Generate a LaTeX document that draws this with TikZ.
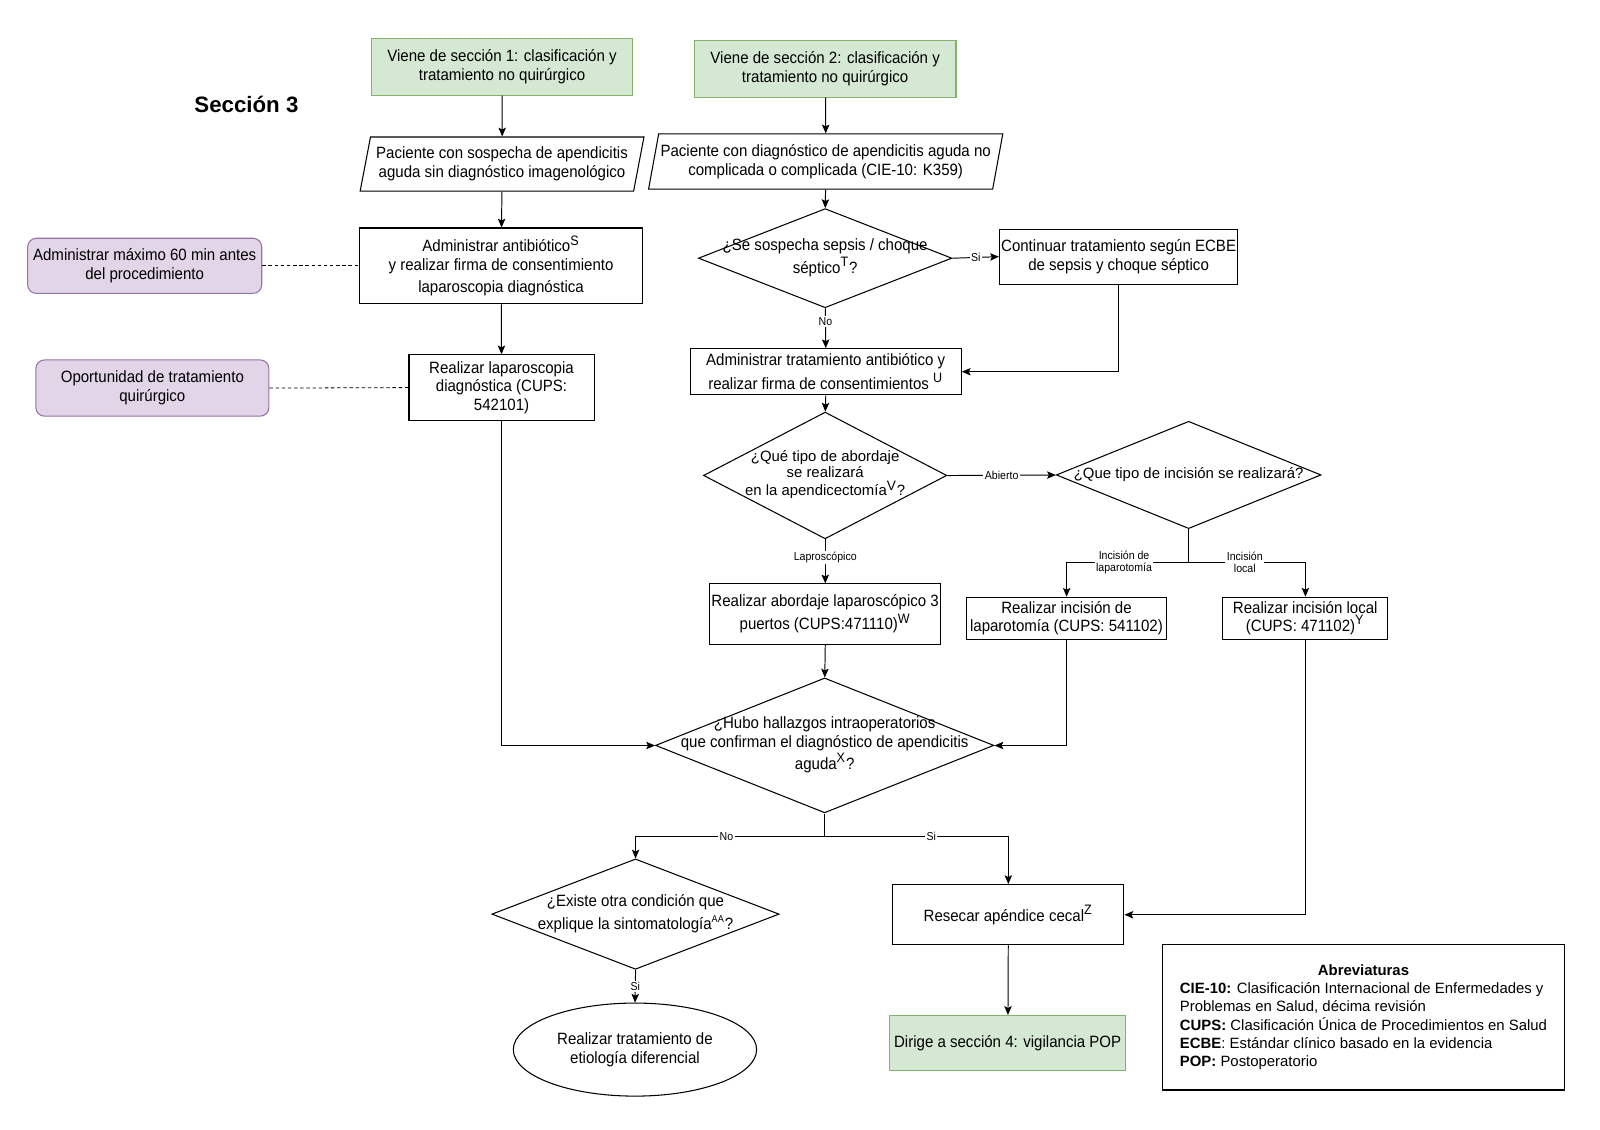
\documentclass[tikz,border=0pt]{standalone}
\usepackage{fontspec}
\setmainfont{Liberation Sans}
\newfontfamily\narrowsans[FakeStretch=0.92]{Liberation Sans}
\usetikzlibrary{shapes.geometric,arrows.meta}

\definecolor{boxgreen}{HTML}{D5E8D4}
\definecolor{linegreen}{HTML}{82B366}
\definecolor{boxpurple}{HTML}{E1D5E7}
\definecolor{linepurple}{HTML}{9673A6}

% text of a decision that does not size its diamond
\newcommand{\dtext}[1]{\makebox[0pt]{\raisebox{-0.25em}[0pt][0pt]{\begin{tabular}{@{}c@{}}#1\end{tabular}}}}
% reference letters
\newcommand{\sups}[1]{\textsuperscript{\fontsize{7.6}{8}\selectfont #1}}

\begin{document}
\begin{tikzpicture}[x=0.02cm, y=-0.02cm, scale=1.0225,
    every node/.append style={transform shape},
    base/.style={draw, line width=0.6pt, align=center, inner sep=1pt,
        font=\narrowsans\fontsize{9.1}{10.4}\selectfont},
    procbox/.style={base, rectangle},
    srcbox/.style={base, rectangle, fill=boxgreen, draw=linegreen},
    notebox/.style={base, rectangle, rounded corners=5pt, fill=boxpurple, draw=linepurple},
    iobox/.style={base, trapezium, trapezium left angle=75, trapezium right angle=105,
        trapezium stretches=true},
    decision/.style={base, diamond, inner sep=0pt},
    endbox/.style={base, ellipse, inner sep=0pt},
    conn/.style={-{Stealth[length=5pt, width=4.2pt, inset=1pt]}, line width=0.55pt},
    link/.style={line width=0.45pt, dash pattern=on 2pt off 1.5pt},
    lbl/.style={fill=white, inner sep=0.8pt, align=center,
        font=\narrowsans\fontsize{6.4}{7}\selectfont}
]
    \useasboundingbox (0,0) rectangle (1564.8,1105.1);

    \node[font=\bfseries\fontsize{12.4}{14}\selectfont] (title) at (241,102) {Sección 3};

    % Left column: coming from section 1
    \node[srcbox, minimum width=5.12cm, minimum height=1.1cm] (src1) at (491,65.5)
        {Viene de sección 1: clasificación y\\tratamiento no quirúrgico};
    \node[iobox, minimum width=5.56cm, minimum height=1.06cm] (pac1) at (491,160.5)
        {Paciente con sospecha de apendicitis\\aguda sin diagnóstico imagenológico};
    \node[procbox, minimum width=5.52cm, minimum height=1.48cm] (abx) at (490,260)
        {Administrar antibiótico\sups{S}\\y realizar firma de consentimiento\\[2pt]laparoscopia diagnóstica};
    \node[procbox, minimum width=3.62cm, minimum height=1.28cm] (lap) at (490.5,379)
        {Realizar laparoscopia\\diagnóstica (CUPS:\\542101)};
    \node[notebox, minimum width=4.58cm, minimum height=1.08cm] (nota1) at (141.5,260)
        {Administrar máximo 60 min antes\\del procedimiento};
    \node[notebox, minimum width=4.56cm, minimum height=1.1cm] (nota2) at (149,379.5)
        {Oportunidad de tratamiento\\quirúrgico};

    % Right column: coming from section 2
    \node[srcbox, minimum width=5.12cm, minimum height=1.1cm] (src2) at (807,67.5)
        {Viene de sección 2: clasificación y\\tratamiento no quirúrgico};
    \node[iobox, minimum width=6.94cm, minimum height=1.08cm] (pac2) at (807.5,158)
        {Paciente con diagnóstico de apendicitis aguda no\\complicada o complicada (CIE-10: K359)};
    \node[decision, minimum width=4.96cm, minimum height=1.94cm] (sep) at (807,252.5)
        {\dtext{¿Se sospecha sepsis / choque\\[1pt]séptico\sups{T}?}};
    \node[procbox, minimum width=4.64cm, minimum height=1.08cm] (ecbe) at (1094,251)
        {Continuar tratamiento según ECBE\\de sepsis y choque séptico};
    \node[procbox, minimum width=5.3cm, minimum height=0.9cm] (trat) at (807.5,363.5)
        {Administrar tratamiento antibiótico y\\[1pt]realizar firma de consentimientos \sups{U}};

    % Type of approach
    \node[decision, minimum width=4.76cm, minimum height=2.48cm,
        font=\fontsize{8.3}{8}\selectfont] (abord) at (807,465)
        {\dtext{¿Qué tipo de abordaje\\se realizará\\en la apendicectomía\sups{V}?}};
    \node[decision, minimum width=5.18cm, minimum height=2.1cm,
        font=\fontsize{8.3}{10}\selectfont] (incis) at (1162.5,464.5)
        {\dtext{¿Que tipo de incisión se realizará?}};
    \node[procbox, minimum width=4.52cm, minimum height=1.18cm] (lapw) at (807,600.5)
        {Realizar abordaje laparoscópico 3\\[1pt]puertos (CUPS:471110)\sups{W}};
    \node[procbox, minimum width=3.92cm, minimum height=0.82cm] (lapar) at (1043,604.5)
        {Realizar incisión de\\laparotomía (CUPS: 541102)};
    \node[procbox, minimum width=3.22cm, minimum height=0.82cm] (local) at (1276.5,604.5)
        {Realizar incisión local\\(CUPS: 471102)\sups{Y}};

    % Findings and resection
    \node[decision, minimum width=6.62cm, minimum height=2.64cm] (hall) at (806.5,729)
        {\dtext{¿Hubo hallazgos intraoperatorios\\que confirman el diagnóstico de apendicitis\\aguda\sups{X}?}};
    \node[decision, minimum width=5.62cm, minimum height=2.16cm] (otra) at (621.5,894)
        {\dtext{¿Existe otra condición que\\[2pt]explique la sintomatología\textsuperscript{\fontsize{5.5}{6}\selectfont AA}?}};
    \node[endbox, minimum width=4.76cm, minimum height=1.82cm] (etio) at (621,1026.5)
        {Realizar tratamiento de\\etiología diferencial};
    \node[procbox, minimum width=4.52cm, minimum height=1.18cm] (resec) at (986,894.5)
        {Resecar apéndice cecal\sups{Z}};
    \node[srcbox, minimum width=4.62cm, minimum height=1.08cm] (pop) at (985.5,1020)
        {Dirige a sección 4: vigilancia POP};

    % Abbreviations
    \node[draw, line width=0.6pt, minimum width=7.86cm, minimum height=2.84cm,
        font=\fontsize{8.3}{10}\selectfont] (abrev) at (1333.5,995)
        {\begin{tabular}{@{}l@{}}
            \multicolumn{1}{@{}c@{}}{\textbf{Abreviaturas}}\\
            \textbf{CIE-10:} Clasificación Internacional de Enfermedades y\\
            Problemas en Salud, décima revisión\\
            \textbf{CUPS:} Clasificación Única de Procedimientos en Salud\\
            \textbf{ECBE}: Estándar clínico basado en la evidencia\\
            \textbf{POP:} Postoperatorio
        \end{tabular}};

    % Connectors
    \coordinate (incsplit) at (1162.5,550);
    \coordinate (hallsplit) at (806.5,818);

    \draw[conn] (src1) -- (pac1);
    \draw[conn] (pac1) -- (abx);
    \draw[conn] (abx) -- (lap);
    \draw[link] (nota1.east) -- (abx.west);
    \draw[link] (nota2.east) -- (lap.west);

    \draw[conn] (src2) -- (pac2);
    \draw[conn] (pac2) -- (sep.north);
    \draw[conn] (sep.east) -- node[lbl] {Si} (ecbe.west);
    \draw[conn] (sep.south) -- node[lbl, pos=0.33] {No} (trat.north);
    \draw[conn] (ecbe.south) |- (trat.east);
    \draw[conn] (trat.south) -- (abord.north);

    \draw[conn] (abord.east) -- node[lbl] {Abierto} (incis.west);
    \draw[conn] (abord.south) -- node[lbl, pos=0.41] {Laproscópico} (lapw.north);
    \draw[line width=0.55pt] (incis.south) -- (incsplit);
    \draw[conn] (incsplit) -| node[lbl, pos=0.265] {Incisión de\\laparotomía} (lapar.north);
    \draw[conn] (incsplit) -| node[lbl, pos=0.24] {Incisión\\local} (local.north);

    \draw[conn] (lapw.south) -- (hall.north);
    \draw[conn] (lap.south) |- (hall.west);
    \draw[conn] (lapar.south) |- (hall.east);

    \draw[line width=0.55pt] (hall.south) -- (hallsplit);
    \draw[conn] (hallsplit) -| node[lbl, pos=0.26] {No} (otra.north);
    \draw[conn] (hallsplit) -| node[lbl, pos=0.29] {Si} (resec.north);
    \draw[conn] (otra.south) -- node[lbl] {Si} (etio.north);
    \draw[conn] (local.south) |- (resec.east);
    \draw[conn] (resec) -- (pop);
\end{tikzpicture}
\end{document}
